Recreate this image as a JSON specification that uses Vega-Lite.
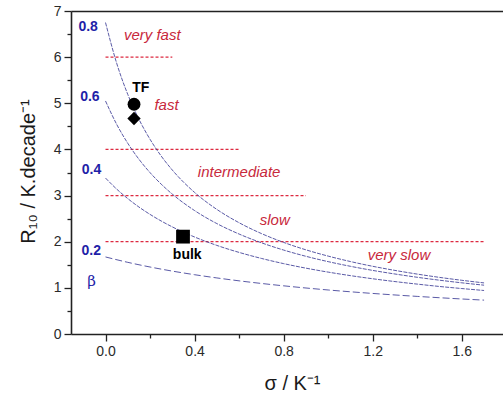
{
  "$schema": "https://vega.github.io/schema/vega-lite/v6.json",
  "autosize": "none",
  "width": 432,
  "height": 323,
  "padding": {"left": 71, "top": 11, "right": 0, "bottom": 62},
  "config": {
    "font": "Liberation Sans",
    "view": {"stroke": null},
    "axis": {
      "grid": false,
      "labelFont": "Liberation Sans",
      "labelFontSize": 14,
      "labelColor": "#2a2a2a",
      "domainColor": "#222222",
      "domainWidth": 1.6,
      "tickColor": "#222222",
      "tickWidth": 1.3,
      "titleFont": "Liberation Sans",
      "titleFontWeight": "normal",
      "titleFontSize": 20,
      "titleColor": "#1a1a1a"
    }
  },
  "datasets": {
    "curves": [
      {"beta": "0.8", "s": 0.0, "r": 6.75}, {"beta": "0.8", "s": 0.05, "r": 5.87}, {"beta": "0.8", "s": 0.1, "r": 5.192},
      {"beta": "0.8", "s": 0.15, "r": 4.655}, {"beta": "0.8", "s": 0.2, "r": 4.219}, {"beta": "0.8", "s": 0.25, "r": 3.857},
      {"beta": "0.8", "s": 0.3, "r": 3.553}, {"beta": "0.8", "s": 0.4, "r": 3.068}, {"beta": "0.8", "s": 0.5, "r": 2.7},
      {"beta": "0.8", "s": 0.6, "r": 2.411}, {"beta": "0.8", "s": 0.7, "r": 2.177}, {"beta": "0.8", "s": 0.8, "r": 1.985},
      {"beta": "0.8", "s": 0.9, "r": 1.824}, {"beta": "0.8", "s": 1.0, "r": 1.688}, {"beta": "0.8", "s": 1.1, "r": 1.57},
      {"beta": "0.8", "s": 1.2, "r": 1.467}, {"beta": "0.8", "s": 1.3, "r": 1.378}, {"beta": "0.8", "s": 1.4, "r": 1.298},
      {"beta": "0.8", "s": 1.5, "r": 1.227}, {"beta": "0.8", "s": 1.6, "r": 1.164}, {"beta": "0.8", "s": 1.7, "r": 1.107},

      {"beta": "0.6", "s": 0.0, "r": 5.05}, {"beta": "0.6", "s": 0.05, "r": 4.545}, {"beta": "0.6", "s": 0.1, "r": 4.133},
      {"beta": "0.6", "s": 0.15, "r": 3.788}, {"beta": "0.6", "s": 0.2, "r": 3.497}, {"beta": "0.6", "s": 0.25, "r": 3.248},
      {"beta": "0.6", "s": 0.3, "r": 3.031}, {"beta": "0.6", "s": 0.4, "r": 2.675}, {"beta": "0.6", "s": 0.5, "r": 2.393},
      {"beta": "0.6", "s": 0.6, "r": 2.166}, {"beta": "0.6", "s": 0.7, "r": 1.977}, {"beta": "0.6", "s": 0.8, "r": 1.819},
      {"beta": "0.6", "s": 0.9, "r": 1.684}, {"beta": "0.6", "s": 1.0, "r": 1.568}, {"beta": "0.6", "s": 1.1, "r": 1.467},
      {"beta": "0.6", "s": 1.2, "r": 1.378}, {"beta": "0.6", "s": 1.3, "r": 1.3}, {"beta": "0.6", "s": 1.4, "r": 1.229},
      {"beta": "0.6", "s": 1.5, "r": 1.166}, {"beta": "0.6", "s": 1.6, "r": 1.109}, {"beta": "0.6", "s": 1.7, "r": 1.058},

      {"beta": "0.4", "s": 0.0, "r": 3.38}, {"beta": "0.4", "s": 0.05, "r": 3.141}, {"beta": "0.4", "s": 0.1, "r": 2.934},
      {"beta": "0.4", "s": 0.15, "r": 2.752}, {"beta": "0.4", "s": 0.2, "r": 2.592}, {"beta": "0.4", "s": 0.25, "r": 2.449},
      {"beta": "0.4", "s": 0.3, "r": 2.321}, {"beta": "0.4", "s": 0.4, "r": 2.102}, {"beta": "0.4", "s": 0.5, "r": 1.92},
      {"beta": "0.4", "s": 0.6, "r": 1.768}, {"beta": "0.4", "s": 0.7, "r": 1.638}, {"beta": "0.4", "s": 0.8, "r": 1.525},
      {"beta": "0.4", "s": 0.9, "r": 1.427}, {"beta": "0.4", "s": 1.0, "r": 1.341}, {"beta": "0.4", "s": 1.1, "r": 1.265},
      {"beta": "0.4", "s": 1.2, "r": 1.197}, {"beta": "0.4", "s": 1.3, "r": 1.136}, {"beta": "0.4", "s": 1.4, "r": 1.081},
      {"beta": "0.4", "s": 1.5, "r": 1.03}, {"beta": "0.4", "s": 1.6, "r": 0.985}, {"beta": "0.4", "s": 1.7, "r": 0.943},

      {"beta": "0.2", "s": 0.0, "r": 1.67}, {"beta": "0.2", "s": 0.1, "r": 1.553}, {"beta": "0.2", "s": 0.2, "r": 1.452},
      {"beta": "0.2", "s": 0.3, "r": 1.363}, {"beta": "0.2", "s": 0.4, "r": 1.285}, {"beta": "0.2", "s": 0.5, "r": 1.215},
      {"beta": "0.2", "s": 0.6, "r": 1.152}, {"beta": "0.2", "s": 0.8, "r": 1.044}, {"beta": "0.2", "s": 1.0, "r": 0.954},
      {"beta": "0.2", "s": 1.2, "r": 0.879}, {"beta": "0.2", "s": 1.4, "r": 0.815}, {"beta": "0.2", "s": 1.6, "r": 0.759},
      {"beta": "0.2", "s": 1.7, "r": 0.734}
    ],
    "limits": [
      {"r": 6, "s0": 0, "s1": 0.3},
      {"r": 4, "s0": 0, "s1": 0.6},
      {"r": 3, "s0": 0, "s1": 0.9},
      {"r": 2, "s0": 0, "s1": 1.7}
    ],
    "regimes": [
      {"label": "very fast", "s": 0.21, "r": 6.49},
      {"label": "fast", "s": 0.274, "r": 4.96},
      {"label": "intermediate", "s": 0.6, "r": 3.51},
      {"label": "slow", "s": 0.76, "r": 2.48},
      {"label": "very slow", "s": 1.318, "r": 1.72}
    ],
    "betas": [
      {"label": "0.8", "s": -0.078, "r": 6.65},
      {"label": "0.6", "s": -0.07, "r": 5.13},
      {"label": "0.4", "s": -0.063, "r": 3.56},
      {"label": "0.2", "s": -0.064, "r": 1.8}
    ],
    "samples": [
      {"point": "TF (a)", "s": 0.128, "r": 4.98},
      {"point": "TF (b)", "s": 0.128, "r": 4.67},
      {"point": "bulk", "s": 0.348, "r": 2.11}
    ],
    "sampleNames": [
      {"label": "TF", "s": 0.158, "r": 5.34},
      {"label": "bulk", "s": 0.367, "r": 1.72}
    ]
  },
  "resolve": {"axis": {"x": "independent", "y": "independent"}},
  "layer": [
    {
      "data": {"name": "limits"},
      "mark": {"type": "rule", "stroke": "#dd2a40", "strokeWidth": 1.3, "strokeDash": [3, 2]},
      "encoding": {
        "x": {
          "field": "s0", "type": "quantitative",
          "scale": {"domain": [-0.155, 1.785], "nice": false, "zero": false},
          "axis": {"orient": "bottom", "values": [0.2, 0.6, 1.0, 1.4], "labels": false, "domain": false, "tickSize": 4, "title": null}
        },
        "x2": {"field": "s1"},
        "y": {
          "field": "r", "type": "quantitative",
          "scale": {"domain": [0, 7], "nice": false, "zero": true},
          "axis": {"orient": "left", "values": [0.5, 1.5, 2.5, 3.5, 4.5, 5.5, 6.5], "labels": false, "domain": false, "tickSize": 4, "title": null}
        }
      }
    },
    {
      "data": {"name": "curves"},
      "mark": {"type": "line", "color": "#3c3c96", "strokeWidth": 0.85, "interpolate": "monotone"},
      "encoding": {
        "x": {
          "field": "s", "type": "quantitative",
          "axis": {
            "orient": "bottom", "values": [0, 0.4, 0.8, 1.2, 1.6], "format": ".1f",
            "tickSize": 7, "labelPadding": 3,
            "title": "σ / K⁻¹", "titleX": 221, "titleY": 55, "titleBaseline": "alphabetic", "titleAlign": "center"
          }
        },
        "y": {
          "field": "r", "type": "quantitative",
          "axis": {
            "orient": "left", "values": [0, 1, 2, 3, 4, 5, 6, 7],
            "tickSize": 7, "labelPadding": 3,
            "title": "R₁₀ / K.decade⁻¹", "titleAngle": -90, "titleX": -37, "titleY": 160,
            "titleBaseline": "alphabetic", "titleAlign": "center"
          }
        },
        "detail": {"field": "beta"},
        "strokeDash": {
          "field": "beta", "type": "nominal", "legend": null,
          "scale": {"domain": ["0.2", "0.4", "0.6", "0.8"], "range": [[7, 3], [4, 1.2], [4, 1.2], [4, 1.2]]}
        }
      }
    },
    {
      "data": {"name": "samples"},
      "mark": {"type": "point", "filled": true, "color": "#000000", "opacity": 1},
      "encoding": {
        "x": {
          "field": "s", "type": "quantitative",
          "axis": {"orient": "top", "labels": false, "ticks": false, "domain": true, "title": null}
        },
        "y": {"field": "r", "type": "quantitative", "axis": null},
        "shape": {
          "field": "point", "type": "nominal", "legend": null,
          "scale": {"domain": ["TF (a)", "TF (b)", "bulk"], "range": ["circle", "diamond", "square"]}
        },
        "size": {
          "field": "point", "type": "nominal", "legend": null,
          "scale": {"domain": ["TF (a)", "TF (b)", "bulk"], "range": [165, 190, 137]}
        }
      }
    },
    {
      "data": {"name": "regimes"},
      "mark": {"type": "text", "font": "Liberation Sans", "fontStyle": "italic", "fontSize": 15, "color": "#c8283c", "align": "center", "baseline": "middle"},
      "encoding": {
        "x": {"field": "s", "type": "quantitative", "axis": null},
        "y": {"field": "r", "type": "quantitative", "axis": null},
        "text": {"field": "label"}
      }
    },
    {
      "data": {"name": "betas"},
      "mark": {"type": "text", "font": "Liberation Sans", "fontWeight": "bold", "fontSize": 14, "color": "#1f1fa8", "align": "center", "baseline": "middle"},
      "encoding": {
        "x": {"field": "s", "type": "quantitative", "axis": null},
        "y": {"field": "r", "type": "quantitative", "axis": null},
        "text": {"field": "label"}
      }
    },
    {
      "data": {"values": [{"label": "β", "s": -0.063, "r": 1.15}]},
      "mark": {"type": "text", "font": "DejaVu Serif", "fontSize": 15, "color": "#1f1fa8", "align": "center", "baseline": "middle"},
      "encoding": {
        "x": {"field": "s", "type": "quantitative", "axis": null},
        "y": {"field": "r", "type": "quantitative", "axis": null},
        "text": {"field": "label"}
      }
    },
    {
      "data": {"name": "sampleNames"},
      "mark": {"type": "text", "font": "Liberation Sans", "fontWeight": "bold", "fontSize": 14, "color": "#000000", "align": "center", "baseline": "middle"},
      "encoding": {
        "x": {"field": "s", "type": "quantitative", "axis": null},
        "y": {"field": "r", "type": "quantitative", "axis": null},
        "text": {"field": "label"}
      }
    }
  ]
}
